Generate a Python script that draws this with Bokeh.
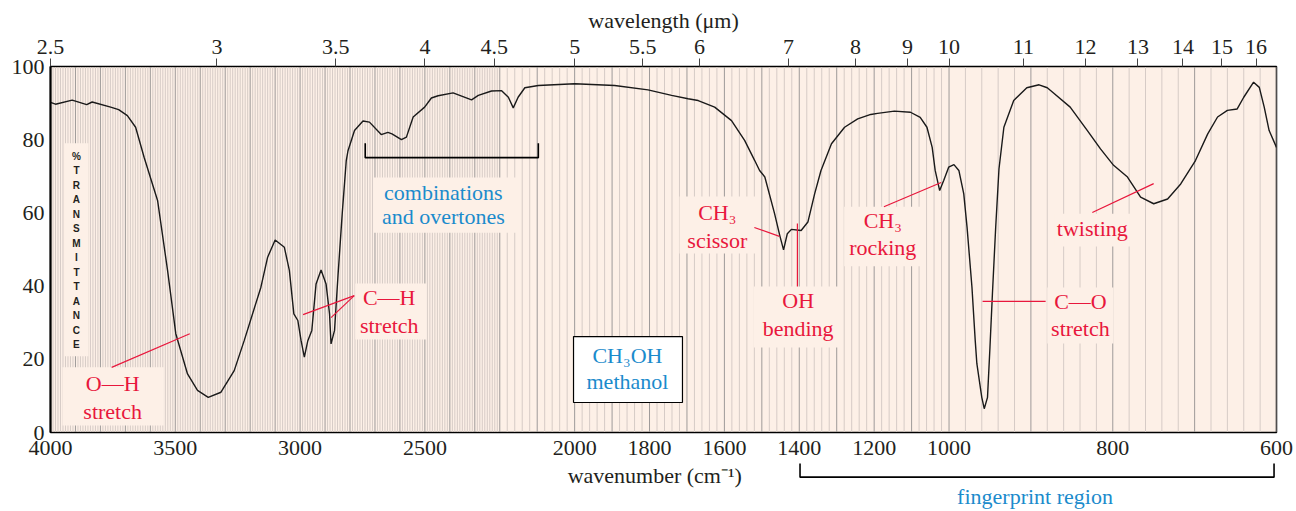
import numpy as np
from bokeh.plotting import figure
from bokeh.layouts import column
from bokeh.models import Range1d, LinearAxis, FixedTicker
from bokeh.core.properties import value
from bokeh.embed import file_html
from bokeh.resources import INLINE

# ---------------- data ----------------
wavenumber = [4000, 3980, 3913, 3855, 3833, 3759, 3727, 3692, 3659, 3625, 3571, 3531,
              3498, 3451, 3411, 3368, 3317, 3264, 3224, 3157, 3130, 3100, 3063, 3043,
              3025, 3009, 2996, 2983, 2969, 2953, 2936, 2916, 2896, 2882, 2876, 2862,
              2848, 2831, 2815, 2808, 2782, 2748, 2722, 2675, 2648, 2632, 2594, 2574,
              2547, 2501, 2474, 2447, 2387, 2313, 2286, 2233, 2195, 2177, 2164, 2151,
              2133, 2097, 2000, 1893, 1804, 1741, 1697, 1670, 1626, 1581, 1546, 1519,
              1506, 1492, 1466, 1452, 1442, 1432, 1421, 1395, 1377, 1359, 1342, 1314,
              1279, 1244, 1209, 1191, 1146, 1103, 1077, 1059, 1045, 1037, 1025, 1014,
              1001, 994, 988, 982, 978, 972, 968, 966, 960, 957, 953, 950, 947, 943,
              939, 933, 921, 905, 890, 880, 872, 852, 831, 815, 799, 782, 766, 750,
              733, 717, 699, 684, 672, 660, 648, 640, 628, 621, 615, 609, 600]
transmittance = [90.2, 89.7, 90.8, 89.6, 90.3, 88.9, 88.2, 86.6, 83.4, 75.2, 63.4, 44.3,
                 27.0, 16.0, 11.5, 9.6, 11.0, 16.9, 25.1, 39.7, 47.9, 52.6, 50.6, 44.3,
                 32.4, 30.6, 25.1, 20.6, 25.1, 27.9, 40.6, 44.4, 40.6, 32.4, 24.2, 27.9,
                 43.0, 60.0, 74.3, 77.0, 82.5, 85.1, 84.8, 81.4, 82.0, 81.6, 80.0, 80.7,
                 86.2, 88.9, 91.4, 92.0, 92.8, 90.9, 92.1, 93.3, 93.4, 91.6, 88.7, 91.6,
                 94.2, 94.8, 95.3, 94.8, 93.6, 92.1, 91.2, 90.7, 88.9, 85.2, 79.8, 74.3,
                 71.6, 69.8, 59.8, 53.8, 49.9, 54.3, 55.5, 55.2, 57.5, 65.2, 71.6, 78.9,
                 83.4, 85.7, 86.9, 87.2, 87.8, 87.5, 86.1, 83.4, 77.9, 71.6, 66.1, 68.9,
                 72.5, 73.2, 71.6, 65.2, 56.1, 39.7, 25.1, 18.8, 9.6, 6.5, 9.6, 23.3, 37.9, 56.1,
                 72.0, 83.4, 90.7, 94.2, 95.0, 94.2, 92.7, 88.9, 82.5, 77.5, 73.0, 69.8, 64.3, 62.5,
                 63.8, 67.9, 74.3, 81.6, 86.2, 88.0, 88.4, 91.6, 95.7, 94.3, 88.9, 82.5, 77.9]

wavenumber_ticks = [4000, 3500, 3000, 2500, 2000, 1800, 1600, 1400, 1200, 1000, 800, 600]
wavelength_ticks = [2.5, 3, 3.5, 4, 4.5, 5, 5.5, 6, 7, 8, 9, 10, 11, 12, 13, 14, 15, 16]
transmittance_ticks = [0, 20, 40, 60, 80, 100]

# piecewise-linear wavenumber scale of the chart paper
WN_BREAKS = np.array([4000.0, 2200.0, 1000.0, 600.0])
U_BREAKS = np.array([0.0, 1800.0, 3600.0, 4912.0])


def wn_to_u(wn):
    return np.interp(-np.asarray(wn, dtype=float), -WN_BREAKS, U_BREAKS)


RED = "#e8173c"
BLUE = "#1b8bcc"
INK = "#231f20"
PINK = "#fdf0e7"
FONT = "Liberation Serif"

p = figure(width=1296, height=462, x_range=Range1d(0, 4912), y_range=Range1d(0, 100),
           output_backend="svg", toolbar_location=None,
           x_axis_location=None, y_axis_location=None,
           min_border_left=50, min_border_right=20, min_border_top=66, min_border_bottom=30)
p.grid.visible = False
p.background_fill_color = PINK
p.border_fill_color = "white"
p.outline_line_color = "black"
p.outline_line_width = 1.5

# chart-paper grid lines
grid_wn = list(range(4000, 2200, -10)) + list(range(2200, 599, -20))
grid_col = ["#9e9a99" if w % 100 == 0 else "#d6cbc6" for w in grid_wn]
gu = wn_to_u(grid_wn)
p.segment(x0=gu, y0=0, x1=gu, y1=100, line_color=grid_col, line_width=1)

# label backgrounds (wn_left, wn_right, T_top, T_bottom)
boxes = [(3944, 3848, 79.0, 20.8), (3952, 3546, 17.8, 1.9), (2779, 2494, 40.7, 25.4),
         (2707, 2155, 69.7, 54.6), (1720, 1517, 64.5, 48.9), (1522, 1295, 39.9, 23.2),
         (1280, 1074, 61.7, 45.4), (871, 779, 59.8, 50.8), (880, 799, 39.6, 24.3)]
p.quad(left=wn_to_u([b[0] for b in boxes]), right=wn_to_u([b[1] for b in boxes]),
       top=[b[2] for b in boxes], bottom=[b[3] for b in boxes],
       fill_color=PINK, line_color=None)

# compound box
p.quad(left=wn_to_u([2003]), right=wn_to_u([1712]), top=[26.2], bottom=[8.2],
       fill_color="white", line_color="black", line_width=1.2)

# spectrum
p.line(wn_to_u(wavenumber), transmittance, line_color="#1a1a1a", line_width=1.4)

# leader lines
leaders = [((3755, 17.8), (3442, 27.0)), ((2783, 37.4), (2988, 32.2)), ((2783, 37.4), (2876, 31.4)),
           ((1520, 56.0), (1453, 53.6)), ((1405, 57.1), (1405, 39.9)), ((1174, 61.7), (1021, 68.3)),
           ((825, 60.1), (750, 68.0)), ((959, 35.8), (882, 35.8))]
p.segment(x0=wn_to_u([l[0][0] for l in leaders]), y0=[l[0][1] for l in leaders],
          x1=wn_to_u([l[1][0] for l in leaders]), y1=[l[1][1] for l in leaders],
          line_color=RED, line_width=1.2)

# combinations bracket
p.line(wn_to_u([2739, 2739, 2097, 2097]), [79.0, 75.1, 75.1, 79.0], line_color="black", line_width=1.6)

# annotation texts
texts = [("O—H", 3751, 13.4, RED), ("stretch", 3751, 5.7, RED),
         ("C—H", 2643, 36.9, RED), ("stretch", 2643, 29.2, RED),
         ("combinations", 2426, 65.6, BLUE), ("and overtones", 2426, 59.0, BLUE),
         ("CH₃", 1619, 60.1, RED), ("scissor", 1619, 52.5, RED),
         ("OH", 1403, 36.1, RED), ("bending", 1403, 28.4, RED),
         ("CH₃", 1177, 57.9, RED), ("rocking", 1177, 50.5, RED),
         ("twisting", 825, 55.7, RED),
         ("C—O", 839.5, 35.8, RED), ("stretch", 839.5, 28.4, RED),
         ("CH₃OH", 1859, 21.0, BLUE), ("methanol", 1859, 13.9, BLUE)]
p.text(x=wn_to_u([t[1] for t in texts]), y=[t[2] for t in texts], text=[t[0] for t in texts],
       text_color=[t[3] for t in texts], text_font=value(FONT), text_font_size="22px",
       text_align="center", text_baseline="middle")

# % TRANSMITTANCE vertical label
p.text(x=wn_to_u([3896]), y=[49.75], text=["\n".join("%TRANSMITTANCE")],
       text_font=value("Liberation Sans"), text_font_style="bold", text_font_size="10px",
       text_color=INK, text_align="center", text_baseline="middle", text_line_height=1.32)

# axes
bottom_u = [float(v) for v in wn_to_u(wavenumber_ticks)]
xb = LinearAxis(ticker=FixedTicker(ticks=bottom_u),
                major_label_overrides={u: str(w) for u, w in zip(bottom_u, wavenumber_ticks)})
top_u = [round(float(v), 6) for v in wn_to_u([10000.0 / l for l in wavelength_ticks])]
xt = LinearAxis(ticker=FixedTicker(ticks=top_u),
                major_label_overrides={u: (str(l) if l != int(l) else str(int(l)))
                                       for u, l in zip(top_u, wavelength_ticks)},
                axis_label="wavelength (μm)")
yl = LinearAxis(ticker=FixedTicker(ticks=transmittance_ticks))

for ax in (xb, xt, yl):
    ax.major_label_text_font = FONT
    ax.major_label_text_font_size = "22px"
    ax.major_label_text_color = INK
    ax.axis_label_text_font = FONT
    ax.axis_label_text_font_size = "22px"
    ax.axis_label_text_font_style = "normal"
    ax.axis_label_text_color = INK
    ax.minor_tick_line_color = None
    ax.axis_line_color = "black"
    ax.major_tick_in = 0

xb.major_tick_out = 0
xb.major_label_standoff = 8
xt.major_tick_out = 8
xt.major_tick_line_color = "#444444"
xt.major_label_standoff = 5
xt.axis_label_standoff = 4
yl.major_tick_out = 0
yl.major_label_standoff = 6
yl.axis_line_width = 2

p.add_layout(xb, "below")
p.add_layout(xt, "above")
p.add_layout(yl, "left")

# strip below the chart: axis title and fingerprint-region bracket (same x scale)
sub = figure(width=1296, height=49, x_range=p.x_range, y_range=Range1d(-21.6, -8.2),
             output_backend="svg", toolbar_location=None,
             x_axis_location=None, y_axis_location=None,
             min_border_left=50, min_border_right=20, min_border_top=0, min_border_bottom=0)
sub.grid.visible = False
sub.outline_line_color = None
sub.background_fill_color = "white"
sub.border_fill_color = "white"
sub.line(wn_to_u([1398, 1398, 603, 603]), [-8.5, -12.2, -12.2, -8.5], line_color="black", line_width=1.6)
sub.text(x=wn_to_u([1786, 895]), y=[-11.75, -17.5], text=["wavenumber (cm⁻¹)", "fingerprint region"],
         text_color=[INK, BLUE], text_font=value(FONT), text_font_size="22px",
         text_align="center", text_baseline="middle")

layout = column(p, sub, spacing=0)
open("out.html", "w").write(file_html(layout, INLINE))
